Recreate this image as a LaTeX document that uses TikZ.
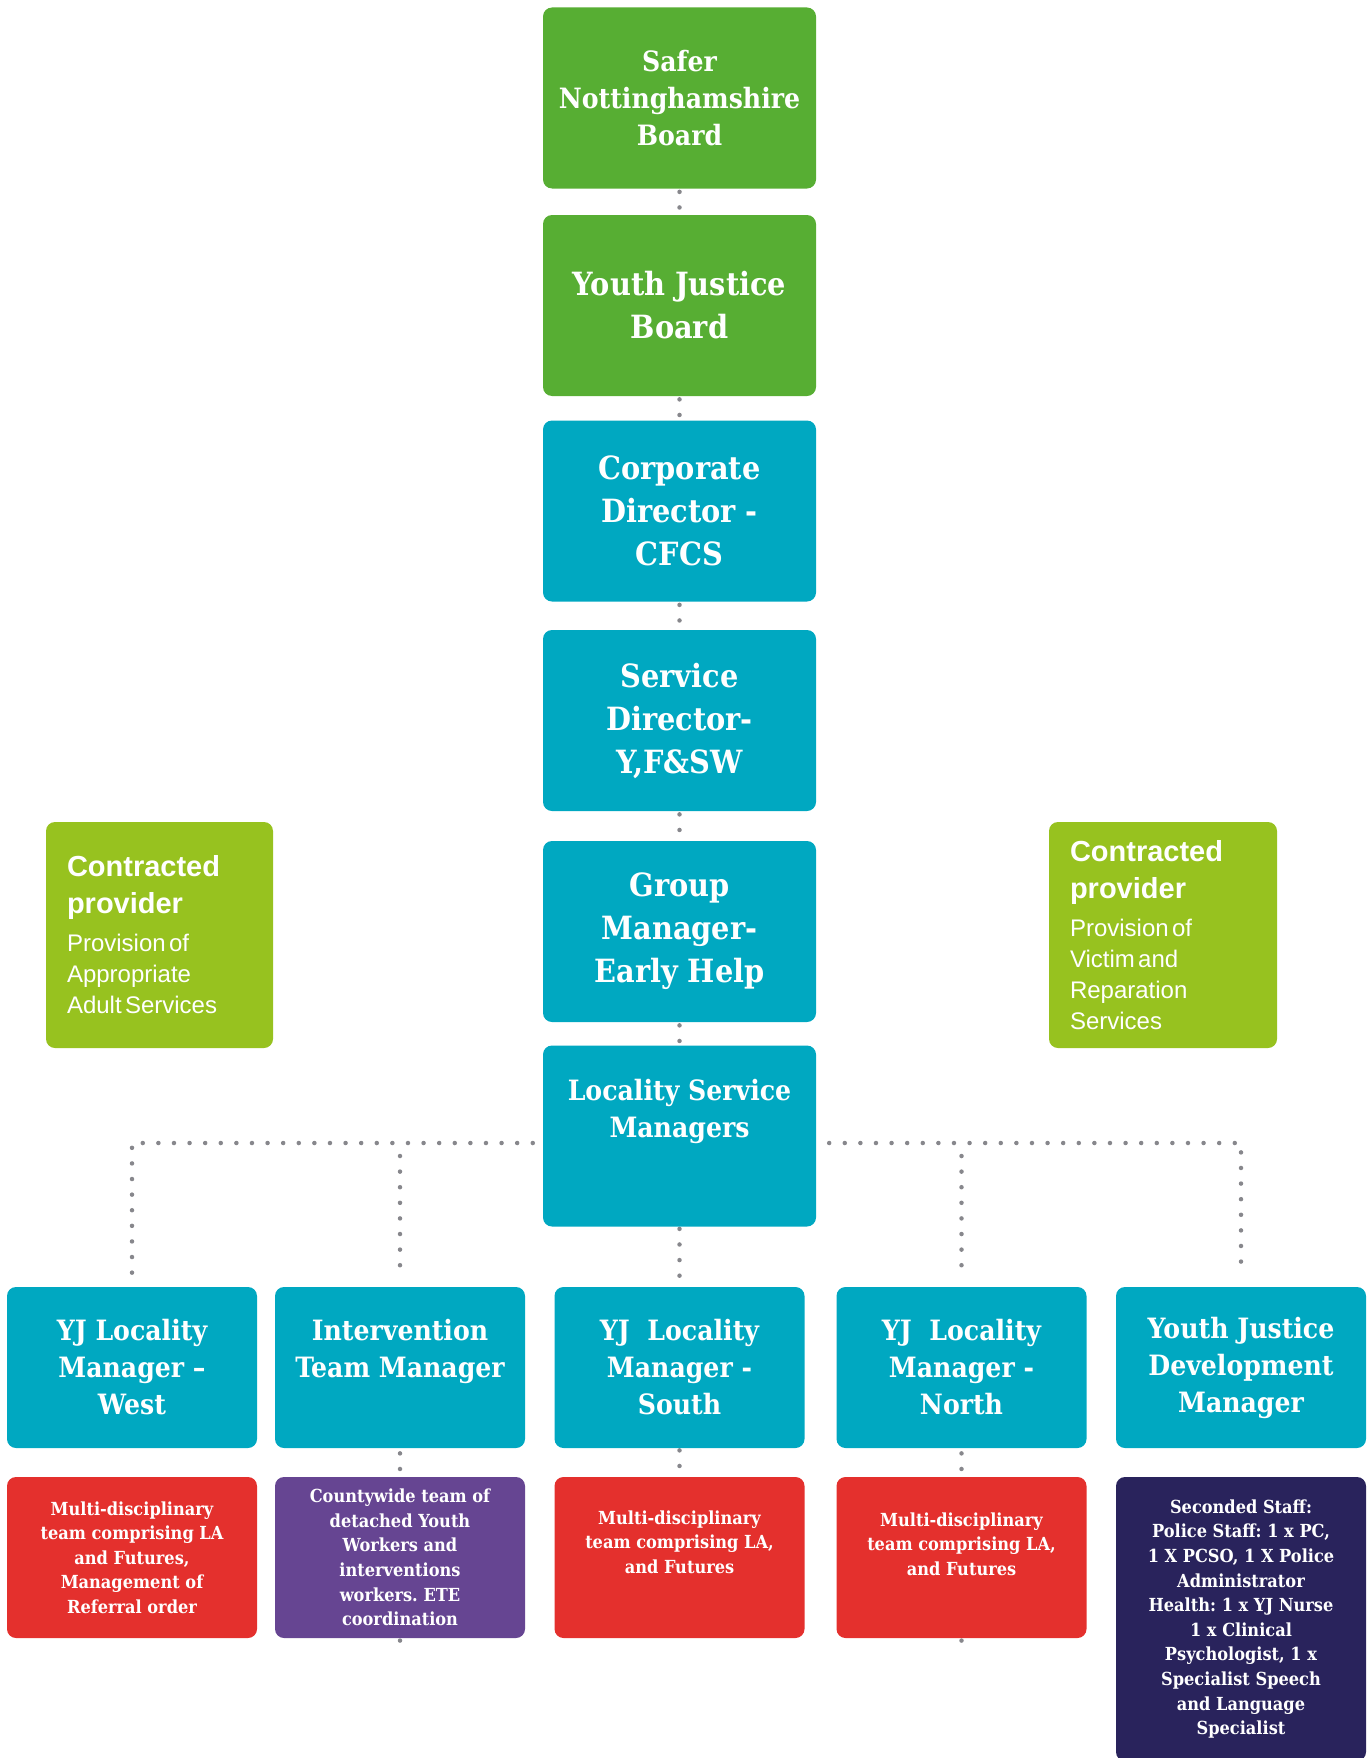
\documentclass[tikz,border=0pt]{standalone}
\usepackage{fontspec}
\setmainfont{DejaVu Serif}[FakeStretch=0.9]
\newfontfamily\provfont{Liberation Sans}
\usetikzlibrary{backgrounds}
\frenchspacing

\definecolor{boardgreen}{RGB}{87,174,51}
\definecolor{nccteal}{RGB}{0,168,193}
\definecolor{provlime}{RGB}{151,194,31}
\definecolor{teamred}{RGB}{228,48,45}
\definecolor{teampurple}{RGB}{102,69,146}
\definecolor{secnavy}{RGB}{41,35,92}
\definecolor{linkgrey}{RGB}{135,135,140}

\newcommand\boxfontL{\fontsize{32}{43}\selectfont\bfseries}
\newcommand\boxfontM{\fontsize{28}{37}\selectfont\bfseries}
\newcommand\boxfontS{\fontsize{18}{24.6}\selectfont\bfseries}
\newcommand\provhead{\provfont\bfseries\fontsize{29}{37}\selectfont}
\newcommand\provbody{\provfont\fontsize{24}{31}\selectfont}

\tikzset{every picture/.style={line width=0.75pt}}
\tikzset{
  orgbox/.style={rounded corners=9pt, inner sep=0pt, text=white, align=center},
  boxtext/.style={inner sep=0pt, text=white, align=center},
  greenbox/.style={orgbox, fill=boardgreen, minimum width=273pt, minimum height=181pt},
  tealbox/.style={orgbox, fill=nccteal, minimum width=273pt, minimum height=181pt},
  mgrbox/.style={orgbox, fill=nccteal, minimum width=250pt, minimum height=161pt, font=\boxfontM},
  teambox/.style={orgbox, minimum width=250pt, minimum height=161pt, font=\boxfontS},
  provbox/.style={rounded corners=9pt, fill=provlime, text=white, align=left, inner xsep=21pt, inner ysep=0pt, minimum height=226pt},
  link/.style={draw=linkgrey, line width=4.5pt, line cap=round, dash pattern=on 0pt off 15.6pt}
}

\begin{document}
\begin{tikzpicture}[x=1pt,y=1pt,yscale=-1,xscale=1]
\useasboundingbox (0,0) rectangle (1366,1758);

%Boards and directors
\node (safer) [greenbox, font=\boxfontM] at (679.5,98) {Safer\\Nottinghamshire\\Board};
\node (yjb) [greenbox, font=\boxfontL] at (679.5,305.5) {Youth Justice\\Board};
\node (cfcs) [tealbox, font=\boxfontL] at (679.5,511) {Corporate\\Director -\\CFCS};
\node (yfsw) [tealbox, font=\boxfontL] at (679.5,720.5) {Service\\Director-\\Y,F\&SW};
\node (gmeh) [tealbox, font=\boxfontL] at (679.5,931.5) {Group\\Manager-\\Early Help};
\node (lsm) [tealbox] at (679.5,1136) {};
\node (lsmtext) [boxtext, font=\boxfontM, anchor=north] at (679.5,1079) {Locality Service\\Managers};

%Contracted providers
\node (cpaa) [provbox, text width=185pt] at (159.5,935) {{\provhead Contracted\\provider\par}\vspace{7pt}{\provbody Provision of\\Appropriate\\Adult Services\par}};
\node (cpvr) [provbox, text width=186pt] at (1163,935) {{\provhead Contracted\\provider\par}\vspace{7pt}{\provbody Provision of\\Victim and\\Reparation\\Services\par}};

%Managers
\node (west) [mgrbox] at (132,1367.5) {YJ Locality\\Manager –\\West};
\node (intv) [mgrbox] at (400,1367.5) {};
\node (intvtext) [boxtext, font=\boxfontM, anchor=north] at (400,1319) {Intervention\\Team Manager};
\node (south) [mgrbox] at (679.5,1367.5) {YJ\ \ Locality\\Manager -\\South};
\node (north) [mgrbox] at (961.5,1367.5) {YJ\ \ Locality\\Manager -\\North};
\node (yjdm) [mgrbox] at (1241,1367.5) {Youth Justice\\Development\\Manager};

%Teams
\node (westteam) [teambox, fill=teamred] at (132,1557.5) {Multi-disciplinary\\team comprising LA\\and Futures,\\Management of\\Referral order};
\node (cwt) [teambox, fill=teampurple] at (400,1557.5) {Countywide team of\\detached Youth\\Workers and\\interventions\\workers. ETE\\coordination};
\node (southteam) [teambox, fill=teamred] at (679.5,1557.5) {};
\node (southtext) [boxtext, font=\boxfontS, anchor=north] at (679.5,1510) {Multi-disciplinary\\team comprising LA,\\and Futures};
\node (northteam) [teambox, fill=teamred] at (961.5,1557.5) {};
\node (northtext) [boxtext, font=\boxfontS, anchor=north] at (961.5,1512) {Multi-disciplinary\\team comprising LA,\\and Futures};
\node (seconded) [teambox, fill=secnavy, minimum height=284pt] at (1241,1619) {Seconded Staff:\\Police Staff: 1 x PC,\\1 X PCSO, 1 X Police\\Administrator\\Health: 1 x YJ Nurse\\1 x Clinical\\Psychologist, 1 x\\Specialist Speech\\and Language\\Specialist};

%Dotted links
\begin{scope}[on background layer]
\foreach \a/\b in {safer/yjb,yjb/cfcs,cfcs/yfsw,yfsw/gmeh,gmeh/lsm}
  \draw[link, shorten <=3pt, shorten >=2pt] (\a.south) -- (\b.north);
\coordinate (bus) at (679.5,1143);
\draw[link, shorten <=14pt, shorten >=14pt] (west.north) |- (bus) -| (yjdm.north);
\draw[link, shorten <=13pt, shorten >=6pt] (intv.north |- bus) -- (intv.north);
\draw[link, shorten <=13pt, shorten >=6pt] (north.north |- bus) -- (north.north);
\draw[link, shorten <=2pt, shorten >=2pt] (lsm.south) -- (south.north);
\draw[link, shorten <=5pt, shorten >=-4pt] (intv.south) -- (cwt.south);
\draw[link, shorten <=5pt, shorten >=-4pt] (north.south) -- (northteam.south);
\draw[link, shorten <=2pt] (south.south) -- (southteam.north);
\end{scope}

\end{tikzpicture}
\end{document}
